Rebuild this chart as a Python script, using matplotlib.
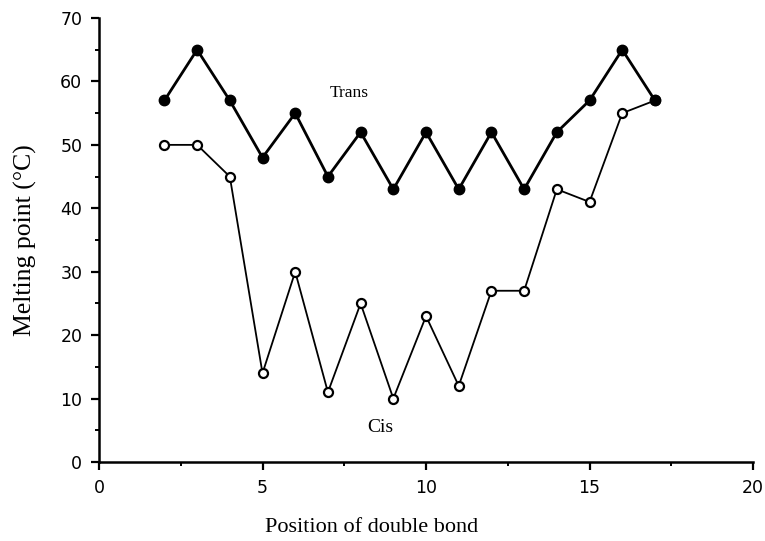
import matplotlib
matplotlib.use("Agg")
import matplotlib.pyplot as plt
from matplotlib.ticker import MultipleLocator

# Melting points of C18 fatty acids by double-bond position
positions = [2, 3, 4, 5, 6, 7, 8, 9, 10, 11, 12, 13, 14, 15, 16, 17]
trans_mp = [57, 65, 57, 48, 55, 45, 52, 43, 52, 43, 52, 43, 52, 57, 65, 57]
cis_mp = [50, 50, 45, 14, 30, 11, 25, 10, 23, 12, 27, 27, 43, 41, 55, 57]

fig = plt.figure(figsize=(7.65, 5.41), dpi=100)
ax = fig.add_axes([0.1294, 0.146, 0.855, 0.8207])

ax.plot(positions, cis_mp, color="black", lw=1.3, marker="o", ms=6.5,
        mfc="white", mec="black", mew=1.6, zorder=2)
ax.plot(positions, trans_mp, color="black", lw=2.0, marker="o", ms=7.5,
        mfc="black", mec="black", zorder=3)

ax.text(7.65, 58.2, "Trans", family="Liberation Serif", fontsize=12.5,
        ha="center", va="center")
ax.text(8.6, 5.5, "Cis", family="Liberation Serif", fontsize=14,
        ha="center", va="center")

ax.set_xlim(0, 20)
ax.set_ylim(0, 70)
ax.xaxis.set_major_locator(MultipleLocator(5))
ax.xaxis.set_minor_locator(MultipleLocator(2.5))
ax.yaxis.set_major_locator(MultipleLocator(10))
ax.yaxis.set_minor_locator(MultipleLocator(5))

for side in ("top", "right"):
    ax.spines[side].set_visible(False)
for side in ("left", "bottom"):
    ax.spines[side].set_linewidth(1.8)

ax.tick_params(which="major", direction="out", length=6, width=1.6,
               labelsize=12.5, pad=6)
ax.tick_params(which="minor", direction="out", length=3, width=1.4)
for lbl in ax.get_xticklabels() + ax.get_yticklabels():
    lbl.set_family("DejaVu Sans")

ax.set_xlabel("Position of double bond", family="Liberation Serif",
              fontsize=16)
ax.xaxis.set_label_coords(0.417, -0.127)
ax.set_ylabel("Melting point (\u00b0C)", family="Liberation Serif",
              fontsize=18.5, labelpad=17)

fig.savefig("out.png", dpi=100)
